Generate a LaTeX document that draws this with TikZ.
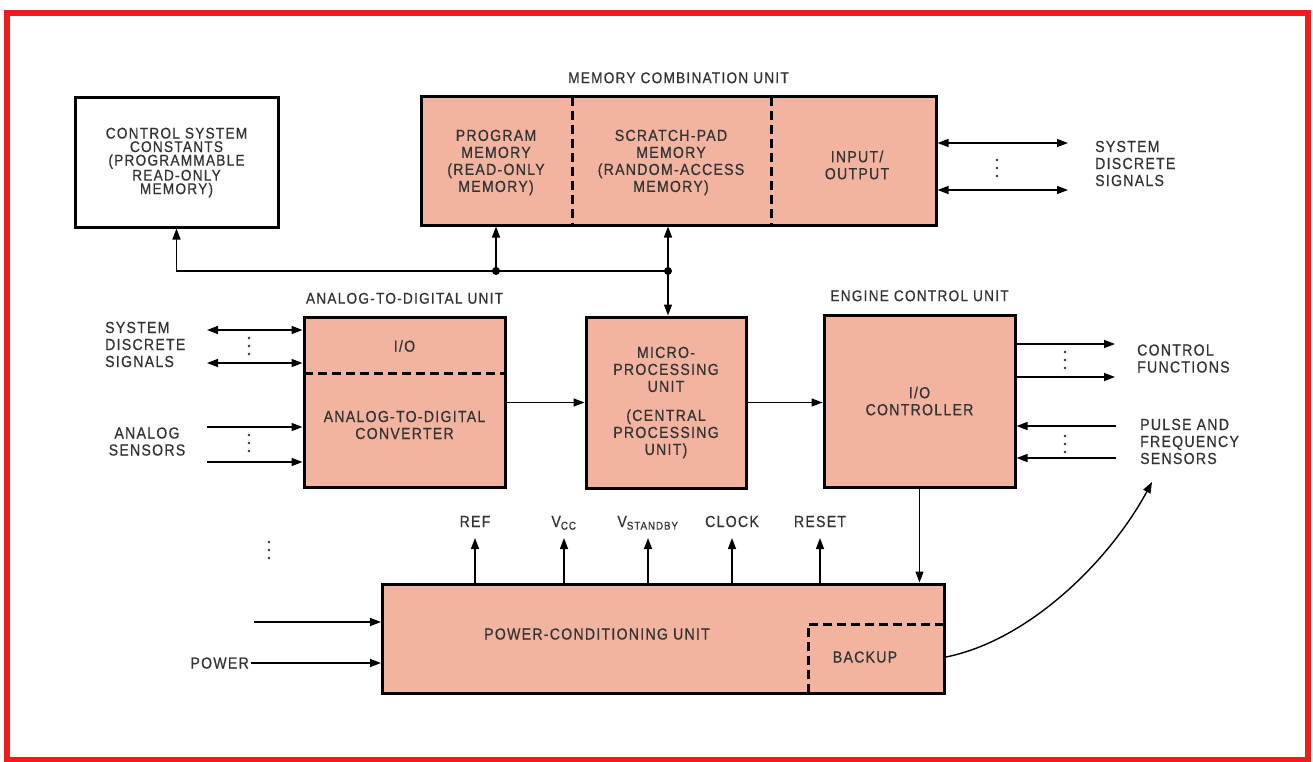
\documentclass[tikz,border=0pt]{standalone}
\usepackage{fontspec}
\setmainfont{Liberation Sans}[FakeStretch=0.88, LetterSpace=8, FakeBold=0.6]
\usetikzlibrary{positioning,arrows.meta}
\definecolor{unitfill}{HTML}{F2B4A0}
\definecolor{frame}{HTML}{EE1C1C}
\definecolor{ink}{HTML}{333333}
\tikzset{
  unit/.style={draw, line width=3pt, fill=unitfill, inner sep=0pt, align=center, text=ink, font=\fontsize{16}{17}\selectfont},
  plainunit/.style={draw, line width=3pt, fill=white, inner sep=0pt, align=center, text=ink},
  part/.style={align=center, inner sep=0pt, text=ink, font=\fontsize{16}{17}\selectfont},
  lbl/.style={align=left, inner sep=0pt, text=ink, font=\fontsize{16}{17}\selectfont},
  unitname/.style={inner sep=0pt, text=ink, font=\fontsize{15.5}{17}\selectfont},
  sig/.style={-{Triangle[length=11pt,width=8pt]}, line width=1.4pt},
  bisig/.style={{Triangle[length=11pt,width=8pt]}-{Triangle[length=11pt,width=8pt]}, line width=1.4pt},
  divider/.style={line width=3pt, dash pattern=on 9pt off 5pt},
  junction/.style={circle, fill, inner sep=0pt, minimum size=8pt}
}
\newcommand\dotstack[2]{\foreach \k in {0,1,2} \fill[ink] (#1,#2+\k*8) circle (1.3pt);}

\begin{document}
\begin{tikzpicture}[x=1pt, y=-1pt]
  \useasboundingbox (0,0) rectangle (1313,762);
  \draw[frame, line width=6pt] (6.5,13) rectangle (1308,759.5);

  % top row
  \node[plainunit, minimum width=203pt, minimum height=129pt, font=\fontsize{15.5}{13.5}\selectfont] (ccs) at (176.5,162.5) {CONTROL SYSTEM\\CONSTANTS\\(PROGRAMMABLE\\READ-ONLY\\MEMORY)};
  \node[unit, minimum width=515pt, minimum height=128pt] (mcu) at (678.5,161) {};
  \node[unitname, above=12pt of mcu] (mcuname) {MEMORY COMBINATION UNIT};
  \node[part] (prog) at (496,162.5) {PROGRAM\\MEMORY\\(READ-ONLY\\MEMORY)};
  \node[part] (spad) at (671,162.5) {SCRATCH-PAD\\MEMORY\\(RANDOM-ACCESS\\MEMORY)};
  \node[part] (inout) at (857,165) {INPUT/\\OUTPUT};
  \draw[divider] (572,97) -- (572,225);
  \draw[divider] (771,97) -- (771,225);

  % middle row
  \node[unit, minimum width=201pt, minimum height=170pt] (adu) at (404.5,402.5) {};
  \node[unitname, above=12pt of adu] (aduname) {ANALOG-TO-DIGITAL UNIT};
  \node[part] (adio) at (404.5,346) {I/O};
  \node[part] (adc) at (404.5,425) {ANALOG-TO-DIGITAL\\CONVERTER};
  \draw[divider] (304,373) -- (505,373);
  \node[unit, minimum width=160pt, minimum height=171pt] (mpu) at (666,402.5) {MICRO-\\PROCESSING\\UNIT\\[12pt](CENTRAL\\PROCESSING\\UNIT)};
  \node[unit, minimum width=191pt, minimum height=172pt] (ecu) at (919.5,401) {I/O\\CONTROLLER};
  \node[unitname, above=12pt of ecu] (ecuname) {ENGINE CONTROL UNIT};

  % bottom row
  \node[unit, minimum width=562pt, minimum height=109pt] (pcu) at (663.5,638.5) {};
  \node[part] (pcuname) at (597,634) {POWER-CONDITIONING UNIT};
  \node[part] (bkup) at (865,657) {BACKUP};
  \draw[divider] (808,693) |- (945,624);

  % bus
  \node[junction] (j1) at (496,271) {};
  \node[junction] (j2) at (668,271) {};
  \draw[sig] (j2.center) -| (ccs.south);
  \draw[sig] (j1.center) -- (j1 |- mcu.south);
  \draw[sig] (j2.center) -- (j2 |- mcu.south);
  \draw[sig] (j2.center) -- (j2 |- mpu.north);

  % memory discrete signals
  \coordinate (mo1) at (1068,143);
  \coordinate (mo2) at (1068,190);
  \draw[bisig] (mcu.east |- mo1) -- (mo1);
  \draw[bisig] (mcu.east |- mo2) -- (mo2);
  \dotstack{997}{160}
  \node[lbl, anchor=west] (mdisc) at (1095,163.5) {SYSTEM\\DISCRETE\\SIGNALS};

  % a/d inputs
  \coordinate (ai1) at (207,330);
  \coordinate (ai2) at (207,363);
  \coordinate (as1) at (207,427);
  \coordinate (as2) at (207,462);
  \draw[bisig] (ai1) -- (adu.west |- ai1);
  \draw[bisig] (ai2) -- (adu.west |- ai2);
  \draw[sig] (as1) -- (adu.west |- as1);
  \draw[sig] (as2) -- (adu.west |- as2);
  \dotstack{249}{338}
  \dotstack{249}{435}
  \node[lbl, anchor=west] (adisc) at (105,344.5) {SYSTEM\\DISCRETE\\SIGNALS};
  \node[lbl, align=center] (asens) at (147,441.5) {ANALOG\\SENSORS};

  \draw[sig] (adu) -- (mpu);
  \draw[sig] (mpu.east) -- (ecu.west |- mpu.east);

  % engine control i/o
  \coordinate (co1) at (1115,344);
  \coordinate (co2) at (1115,377);
  \coordinate (pi1) at (1116,426);
  \coordinate (pi2) at (1116,458);
  \draw[sig] (ecu.east |- co1) -- (co1);
  \draw[sig] (ecu.east |- co2) -- (co2);
  \draw[sig] (pi1) -- (ecu.east |- pi1);
  \draw[sig] (pi2) -- (ecu.east |- pi2);
  \dotstack{1065}{352}
  \dotstack{1065}{436}
  \node[lbl, anchor=west] (ctl) at (1137,358.5) {CONTROL\\FUNCTIONS};
  \node[lbl, anchor=west] (pulse) at (1140,441.5) {PULSE AND\\FREQUENCY\\SENSORS};
  \draw[sig] (ecu.south) -- (ecu.south |- pcu.north);

  % power outputs
  \foreach \x/\nm/\txt in {475/ref/REF, 564/vcc/V\textsubscript{CC}, 648/vsb/V\textsubscript{STANDBY}, 732/clk/CLOCK, 820/rst/RESET} {
    \node[lbl, anchor=base] (\nm) at (\x,527) {\txt};
    \draw[sig, shorten >=11pt] (pcu.north -| \nm.base) -- (\nm.base);
  }

  % power inputs
  \node[lbl, anchor=east, inner sep=2pt] (pwr) at (251,663) {POWER};
  \coordinate (pin) at (254,622);
  \draw[sig] (pwr.east) -- (pcu.west |- pwr.east);
  \draw[sig] (pin) -- (pcu.west |- pin);
  \dotstack{269}{542}

  % backup to sensors
  \coordinate (bko) at (pcu.east |- bkup);
  \coordinate (ptip) at (1152,482);
  \draw[sig] (bko) .. controls (1030,640) and (1110,560) .. (ptip);
\end{tikzpicture}
\end{document}
